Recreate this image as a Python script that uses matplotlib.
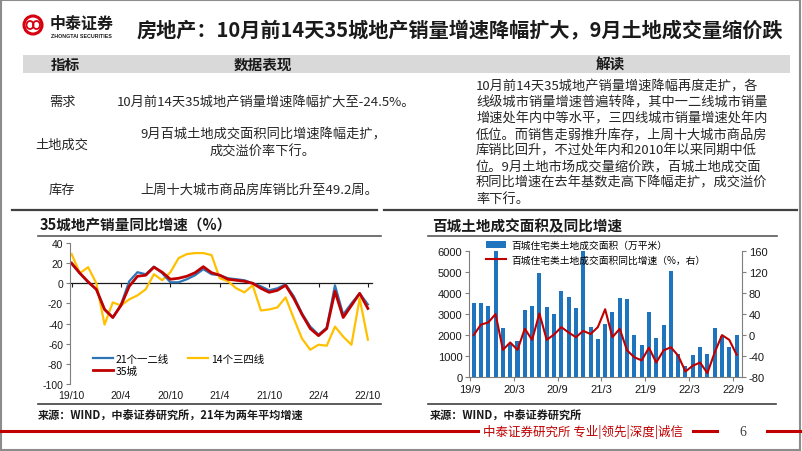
import matplotlib.pyplot as plt
import numpy as np
from matplotlib.patches import Rectangle, Ellipse
from matplotlib.lines import Line2D

plt.rcParams['font.family'] = ['Noto Sans CJK SC', 'DejaVu Sans']
plt.rcParams['axes.unicode_minus'] = False

# ---- data: 35城地产销量同比增速 (%), monthly 19/10 .. 22/10
left_ticks = ['19/10', '20/4', '20/10', '21/4', '21/10', '22/4', '22/10']
tier12 = [19, 10, 1, -6, -26, -34, -21, 2, 11, 9, 16.5, 10, 1, 1, 4, 8, 14, 9, 8,
          5, 4, 3, 0, -3, -7, -5, -1, -13, -30, -43, -51, -44, -2, -31, -20, -10, -21]
tier34 = [29, 10, 16, 0, -41, -19, -22, -16, -12, -6, 9, 3, 11, 25, 29, 30, 30, 28, 5,
          2, -5, -9, -2, -27, -26, -24, -14, -35, -55, -66, -61, -62, -43, -53, -61, -15, -56]
city35 = [20, 10, 1.5, -6, -26, -34, -22, -3, 7, 8, 16, 11, 4, 5, 7, 10.5, 16.5, 10.5, 8,
          4, 3, 2, 0, -5, -9, -7, -2, -15, -31, -45, -52, -45, -8, -34, -22, -10, -25]

# ---- data: 百城住宅类土地成交面积 (万平米) and yoy (%), monthly 19/9 .. 22/9
right_ticks = ['19/9', '20/3', '20/9', '21/3', '21/9', '22/3', '22/9']
land_area = [3500, 3530, 3400, 6300, 2350, 1580, 1700, 3190, 3370, 4940, 3320, 3000, 4070,
             3790, 3270, 6300, 2370, 1820, 2530, 3080, 3780, 3690, 2020, 1530, 3080, 1850,
             2500, 5020, 1100, 530, 1060, 1420, 1090, 2330, 1950, 1430, 2000]
land_yoy = [0, 20, 24, 40, -28, -14, -28, 12, -9, 41, -9, 1, 15, 5, -4, 8, 2, 15, 49, -4,
            12, -29, -42, -48, -24, -52, -29, -23, -39, -69, -58, -52, -72, -33, 0, -9, -37]

W, H = 802, 452
def fx(x):
    return x / W
def fy(y):
    return 1 - y / H

RED = '#C00000'
TXT = '#262626'

fig = plt.figure(figsize=(8.02, 4.52), dpi=100)

def hline(x0, x1, y, color='#404040', lw=1.0):
    fig.add_artist(Line2D([fx(x0), fx(x1)], [fy(y), fy(y)], color=color, lw=lw))

# slide frame
fig.add_artist(Rectangle((0.001, 0.002), 0.997, 0.996, transform=fig.transFigure,
                         fill=False, ec='#8c8c8c', lw=1.5))

# logo
fig.add_artist(Ellipse((fx(33), fy(26)), 18 / W, 18 / H, transform=fig.transFigure,
                       fill=False, ec='#D7000F', lw=2.2))
fig.add_artist(Ellipse((fx(30), fy(26)), 7 / W, 8 / H, transform=fig.transFigure,
                       fill=False, ec='#D7000F', lw=1.3))
fig.add_artist(Ellipse((fx(36.5), fy(26)), 7 / W, 8 / H, transform=fig.transFigure,
                       fill=False, ec='#D7000F', lw=1.3))
fig.text(fx(50), fy(24), '中泰证券', fontsize=11.5, weight='bold', color='#1a1a1a', va='center')
fig.text(fx(51), fy(36), 'ZHONGTAI SECURITIES', fontsize=3.8, color='#1a1a1a', va='center',
         family='Liberation Sans', weight='bold')

# title
fig.text(fx(137), fy(30), '房地产：10月前14天35城地产销量增速降幅扩大，9月土地成交量缩价跌',
         fontsize=14.5, weight='bold', color='#1a1a1a', va='center')

# table
fig.add_artist(Rectangle((fx(23), fy(74)), (790 - 23) / W, 18 / H, transform=fig.transFigure,
                         color='#D9D9D9', lw=0))
for x, s in [(65, '指标'), (263, '数据表现'), (610, '解读')]:
    fig.text(fx(x), fy(65), s, fontsize=10.5, weight='bold', color='#1a1a1a',
             ha='center', va='center')

rows = [(102, '需求'), (145, '土地成交'), (190, '库存')]
for y, s in rows:
    fig.text(fx(62), fy(y), s, fontsize=9.5, color=TXT, ha='center', va='center')
mid = [(266, 102, '10月前14天35城地产销量增速降幅扩大至-24.5%。'),
       (263, 135, '9月百城土地成交面积同比增速降幅走扩，'),
       (263, 152, '成交溢价率下行。'),
       (259, 190, '上周十大城市商品房库销比升至49.2周。')]
for x, y, s in mid:
    fig.text(fx(x), fy(y), s, fontsize=9.5, color=TXT, ha='center', va='center')

notes = ['10月前14天35城地产销量增速降幅再度走扩，各',
         '线级城市销量增速普遍转降，其中一二线城市销量',
         '增速处年内中等水平，三四线城市销量增速处年内',
         '低位。而销售走弱推升库存，上周十大城市商品房',
         '库销比回升，不过处年内和2010年以来同期中低',
         '位。9月土地市场成交量缩价跌，百城土地成交面',
         '积同比增速在去年基数走高下降幅走扩，成交溢价',
         '率下行。']
for k, s in enumerate(notes):
    fig.text(fx(476), fy(86.5 + 16.1 * k), s, fontsize=9.5, color=TXT, va='center')

# section lines
hline(12, 377, 211, '#404040', 1.6)
hline(384, 797, 211, '#404040', 1.6)
hline(38, 381, 237, '#595959', 1.2)
hline(428, 777, 237, '#595959', 1.2)
hline(38, 381, 405, '#404040', 1.2)
hline(428, 776, 405, '#404040', 1.2)

fig.text(fx(40), fy(226), '35城地产销量同比增速（%）', fontsize=10.5, weight='bold',
         color='#1a1a1a', va='center')
fig.text(fx(432), fy(226), '百城土地成交面积及同比增速', fontsize=10.5, weight='bold',
         color='#1a1a1a', va='center')

# ---- left chart
ax1 = fig.add_axes([fx(70), fy(385), (372 - 70) / W, (385 - 244) / H])
x1 = np.arange(len(city35))
l34, = ax1.plot(x1, tier34, color='#FFC000', lw=1.6, label='14个三四线')
l12, = ax1.plot(x1, tier12, color='#2E75B6', lw=1.6, label='21个一二线')
l35, = ax1.plot(x1, city35, color=RED, lw=2.0, label='35城')
ax1.set_xlim(-0.2, 36.5)
ax1.set_ylim(-100, 40)
ax1.set_yticks(range(-100, 41, 20))
ax1.set_xticks(range(0, 37, 6))
ax1.set_xticklabels(left_ticks)
for s in ['top', 'right', 'bottom']:
    ax1.spines[s].set_visible(False)
ax1.spines['left'].set_color('#7f7f7f')
ax1.spines['left'].set_linewidth(0.8)
ax1.tick_params(axis='x', length=0, labelsize=7.5, pad=4, colors='#1a1a1a')
ax1.tick_params(axis='y', length=3, width=0.8, labelsize=7.5, pad=2, colors='#1a1a1a')
ax1.tick_params(axis='y', color='#7f7f7f')
for lab in ax1.get_xticklabels() + ax1.get_yticklabels():
    lab.set_fontfamily('Liberation Sans')
sec = ax1.secondary_xaxis(100 / 140)
sec.set_alignment('bottom')
sec.set_xticks(range(0, 37, 6))
sec.tick_params(axis='x', length=3, width=0.8, labelbottom=False, color='#1a1a1a')
sec.spines['bottom'].set_color('#1a1a1a')
sec.spines['bottom'].set_linewidth(0.9)
ax1.legend(handles=[l12, l35, l34], ncol=2, frameon=False, fontsize=7.5,
           loc='upper left', bbox_to_anchor=(fx(93), fy(355)), bbox_transform=fig.transFigure,
           borderpad=0, borderaxespad=0, handlelength=1.9, handletextpad=0.25,
           columnspacing=1.9, labelspacing=0.15)

# ---- right chart
ax2 = fig.add_axes([fx(469.3), fy(378.3), (741.7 - 469.3) / W, (378.3 - 251.7) / H])
x2 = np.arange(len(land_area))
bars = ax2.bar(x2, land_area, width=0.55, color='#1F74BE', label='百城住宅类土地成交面积（万平米）')
ax2.set_xlim(-0.6, 36.7)
ax2.set_ylim(0, 6000)
ax2.set_yticks(range(0, 6001, 1000))
ax2.set_xticks(np.arange(-0.5, 36, 6))
ax2.set_xticklabels(right_ticks)
ax3 = ax2.twinx()
ly, = ax3.plot(x2, land_yoy, color=RED, lw=1.5, label='百城住宅类土地成交面积同比增速（%，右）')
ax3.set_ylim(-80, 160)
ax3.set_yticks(range(-80, 161, 40))
for a in (ax2, ax3):
    a.spines['top'].set_visible(False)
    for s in ['left', 'right', 'bottom']:
        a.spines[s].set_color('#7f7f7f')
        a.spines[s].set_linewidth(0.8)
    a.tick_params(length=3, width=0.8, labelsize=8, pad=2, color='#7f7f7f', labelcolor='#1a1a1a')
ax2.spines['right'].set_visible(False)
ax3.spines['left'].set_visible(False)
ax3.spines['bottom'].set_visible(False)
for lab in ax2.get_xticklabels() + ax2.get_yticklabels() + ax3.get_yticklabels():
    lab.set_fontfamily('Liberation Sans')
ax3.legend(handles=[bars, ly], frameon=False, fontsize=7, loc='upper left',
           bbox_to_anchor=(fx(486), fy(241)), bbox_transform=fig.transFigure,
           borderpad=0, borderaxespad=0, handlelength=2.1, handletextpad=0.5,
           labelspacing=0.45)

# sources
fig.text(fx(38), fy(416), '来源：WIND，中泰证券研究所，21年为两年平均增速', fontsize=8,
         weight='bold', color='#1a1a1a', va='center')
fig.text(fx(430), fy(416), '来源：WIND，中泰证券研究所', fontsize=8,
         weight='bold', color='#1a1a1a', va='center')

# footer
hline(0, 478, 432, RED, 2.2)
fig.text(fx(483), fy(432), '中泰证券研究所 专业|领先|深度|诚信', fontsize=9, color=RED,
         va='center')
hline(693, 717, 432, RED, 2.2)
fig.text(fx(743), fy(433), '6', fontsize=10, color='#404040', va='center', ha='center',
         family='Liberation Serif')
hline(767, 802, 432, RED, 2.2)

fig.savefig('out.png', dpi=100)
